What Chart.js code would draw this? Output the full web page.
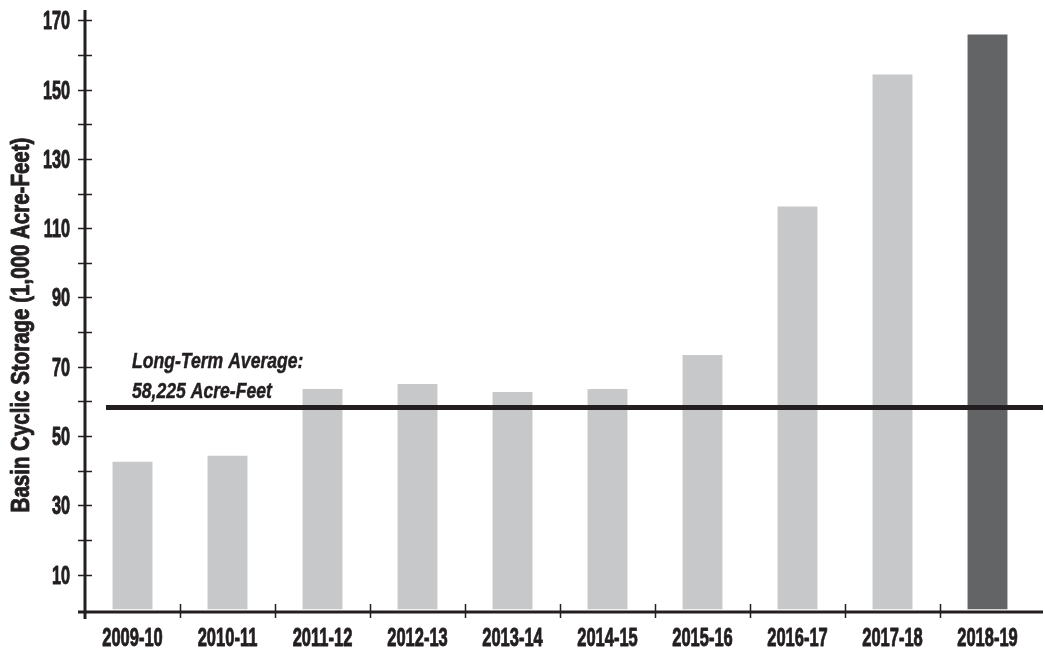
<!DOCTYPE html>
<html>
<head>
<meta charset="utf-8">
<title>Basin Cyclic Storage</title>
<script src="https://cdn.jsdelivr.net/npm/chart.js@4/dist/chart.umd.min.js"></script>
<style>
  html, body { margin: 0; padding: 0; background: #fff; }
  #wrap { width: 1045px; height: 652px; }
</style>
</head>
<body>
<div id="wrap"><canvas id="storageChart" width="1045" height="652"></canvas></div>
<script>
// Data
const waterYears = ['2009-10', '2010-11', '2011-12', '2012-13', '2013-14', '2014-15', '2015-16', '2016-17', '2017-18', '2018-19'];
const cyclicStorage = [42.6, 44.3, 63.6, 65.0, 62.7, 63.6, 73.4, 116.3, 154.4, 165.9];
const yLabelTicks = [10, 30, 50, 70, 90, 110, 130, 150, 170];
const yTickMarks = [10, 20, 30, 40, 50, 60, 70, 80, 90, 100, 110, 120, 130, 140, 150, 160, 170];
const longTermAverage = 58.225;
const averageLabel = ['Long-Term Average:', '58,225 Acre-Feet'];
const yTitle = 'Basin Cyclic Storage (1,000 Acre-Feet)';

const INK = '#231f20';
const LIGHT_BAR = '#c7c8ca';
const DARK_BAR = '#636466';
const FONT = "'Liberation Sans', Arial, sans-serif";

// text squeezed horizontally (condensed look), with a thin outline for a heavier weight
function condensedText(ctx, text, x, y, sx, align, weight) {
    ctx.save();
    ctx.translate(x, y);
    ctx.scale(sx, 1);
    ctx.textAlign = align;
    ctx.fillText(text, 0, 0);
    if (weight) {
        ctx.lineWidth = weight;
        ctx.lineJoin = 'round';
        ctx.strokeText(text, 0, 0);
    }
    ctx.restore();
}

// axis lines, tick marks, labels, average line and texts
const overlayPlugin = {
    id: 'overlay',
    afterDatasetsDraw(chart) {
        const ctx = chart.ctx;
        const area = chart.chartArea;
        const x = chart.scales.x;
        const y = chart.scales.y;
        ctx.save();
        ctx.fillStyle = INK;
        ctx.strokeStyle = INK;

        // average line
        const avgY = y.getPixelForValue(longTermAverage);
        ctx.lineWidth = 5;
        ctx.beginPath();
        ctx.moveTo(area.left + 21, avgY);
        ctx.lineTo(area.right + 8, avgY);
        ctx.stroke();

        // average label
        ctx.font = 'italic bold 22px ' + FONT;
        ctx.textBaseline = 'alphabetic';
        condensedText(ctx, averageLabel[0], area.left + 47, avgY - 40, 0.8, 'left', 0.5);
        condensedText(ctx, averageLabel[1], area.left + 47, avgY - 10, 0.8, 'left', 0.5);

        // axes
        ctx.lineWidth = 3;
        ctx.beginPath();
        ctx.moveTo(area.left, area.top);
        ctx.lineTo(area.left, area.bottom + 7);
        ctx.moveTo(area.left - 7, area.bottom);
        ctx.lineTo(area.right + 8, area.bottom);
        ctx.stroke();

        // y tick marks
        ctx.lineWidth = 1.5;
        ctx.beginPath();
        yTickMarks.forEach(v => {
            const py = Math.round(y.getPixelForValue(v)) + 0.5;
            ctx.moveTo(area.left - 7, py);
            ctx.lineTo(area.left + 7, py);
        });
        // x tick marks between categories
        for (let i = 1; i < waterYears.length; i++) {
            const px = Math.round((x.getPixelForTick(i - 1) + x.getPixelForTick(i)) / 2) + 0.5;
            ctx.moveTo(px, area.bottom - 8);
            ctx.lineTo(px, area.bottom + 6);
        }
        ctx.stroke();

        // tick labels
        ctx.font = 'bold 25px ' + FONT;
        ctx.textBaseline = 'alphabetic';
        yLabelTicks.forEach(v => {
            condensedText(ctx, String(v), area.left - 15, y.getPixelForValue(v) + 9, 0.65, 'right', 0.9);
        });
        waterYears.forEach((label, i) => {
            condensedText(ctx, label, x.getPixelForTick(i), area.bottom + 34, 0.66, 'center', 0.9);
        });

        // y axis title
        ctx.translate(22, (area.top + area.bottom) / 2 + 14);
        ctx.rotate(-Math.PI / 2);
        ctx.font = 'bold 25px ' + FONT;
        ctx.textBaseline = 'middle';
        condensedText(ctx, yTitle, 0, 0, 0.82, 'center', 0.9);

        ctx.restore();
    }
};

new Chart(document.getElementById('storageChart'), {
    type: 'bar',
    data: {
        labels: waterYears,
        datasets: [{
            data: cyclicStorage,
            backgroundColor: cyclicStorage.map((v, i) => i === cyclicStorage.length - 1 ? DARK_BAR : LIGHT_BAR),
            borderWidth: 0,
            barPercentage: 0.42,
            categoryPercentage: 1
        }]
    },
    options: {
        responsive: false,
        animation: false,
        layout: { padding: { left: 0, top: 10, right: 10, bottom: 0 } },
        plugins: {
            legend: { display: false },
            tooltip: { enabled: false }
        },
        scales: {
            x: {
                grid: { display: false, drawTicks: false },
                border: { display: false },
                ticks: { display: false },
                afterFit(scale) { scale.height = 40; }
            },
            y: {
                min: -0.8,
                max: 173,
                grid: { display: false, drawTicks: false },
                border: { display: false },
                ticks: { display: false },
                afterFit(scale) { scale.width = 85; }
            }
        }
    },
    plugins: [overlayPlugin]
});
</script>
</body>
</html>
